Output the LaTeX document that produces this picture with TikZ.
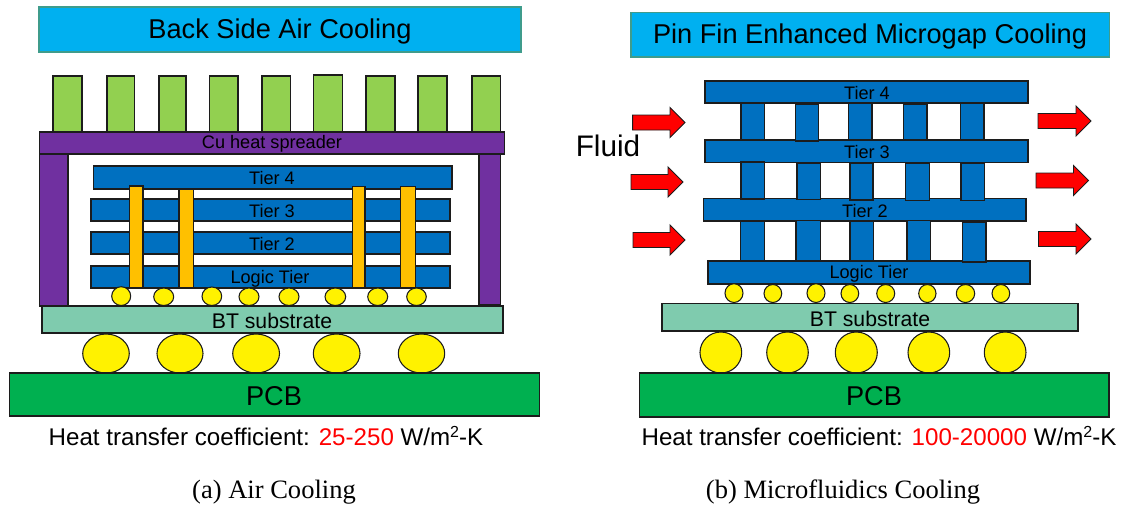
\documentclass[tikz,border=0pt]{standalone}
\usepackage{fontspec}
\setmainfont{Liberation Sans}
\newfontfamily\capfont{Liberation Serif}
\definecolor{skyb}{HTML}{00B0F0}
\definecolor{teale}{HTML}{3F9C8C}
\definecolor{fing}{HTML}{92D050}
\definecolor{purp}{HTML}{7030A0}
\definecolor{tierb}{HTML}{0070C0}
\definecolor{tsvo}{HTML}{FFC000}
\definecolor{subg}{HTML}{7FCBAE}
\definecolor{pcbg}{HTML}{00B050}
\definecolor{edge}{HTML}{1C1C1C}
\tikzset{
  part/.style={draw=edge,line width=0.8pt},
  titlebox/.style={fill=skyb,draw=teale,line width=0.9pt},
  finbox/.style={part,fill=fing},
  purpbox/.style={part,fill=purp},
  tierbox/.style={part,fill=tierb},
  tsvbox/.style={part,fill=tsvo},
  subbox/.style={part,fill=subg},
  pcbbox/.style={part,fill=pcbg},
  ball/.style={part,fill=yellow},
  flow/.style={draw=edge,line width=0.7pt,fill=red},
  titletext/.style={font=\fontsize{20.4pt}{24pt}\selectfont,inner sep=0pt},
  fluidtext/.style={font=\fontsize{22.3pt}{24pt}\selectfont,inner sep=0pt},
  tiertext/.style={font=\fontsize{13.6pt}{16pt}\selectfont,inner sep=0pt},
  subtext/.style={font=\fontsize{15.9pt}{18pt}\selectfont,inner sep=0pt},
  pcbtext/.style={font=\fontsize{20.4pt}{24pt}\selectfont,inner sep=0pt},
  htctext/.style={font=\fontsize{18.1pt}{20pt}\selectfont,inner sep=0pt},
  captext/.style={font=\capfont\fontsize{19.9pt}{22pt}\selectfont,inner sep=0pt},
}
\newcommand{\bx}[5]{\draw[#1] (#2,#3) rectangle (#4,#5);}
\newcommand{\blob}[4]{\draw[ball] ({(#1+#3)/2},{(#2+#4)/2}) ellipse [x radius={(#3-#1)/2},y radius={(#4-#2)/2}];}
\newcommand{\arr}[3]{\draw[flow] (#1,#3-7.5) -- (#2-15,#3-7.5) -- (#2-15,#3-15) -- (#2,#3) -- (#2-15,#3+15) -- (#2-15,#3+7.5) -- (#1,#3+7.5) -- cycle;}
\newcommand{\sqsup}{\raisebox{6pt}{\fontsize{12pt}{12pt}\selectfont 2}}
\begin{document}
\begin{tikzpicture}[x=0.75pt,y=-0.75pt]
\useasboundingbox (0,0) rectangle (1124,504);
% ---------- (a)
\bx{titlebox}{39}{7}{521}{52}
\node[titletext] (ta) at (280,31.5) {Back Side Air Cooling};
\foreach \a/\b/\t in {53/82/76,107/134.5/76,159/186/76,209.5/238/76,262/290.7/76,313.5/342.3/75,366/395/76,418/447/76,472/500.5/76}
  {\bx{finbox}{\a}{\t}{\b}{132}}
\bx{purpbox}{39.5}{154}{68}{306}
\bx{purpbox}{479}{153}{500.7}{305}
\bx{purpbox}{39.5}{132}{504.5}{154}
\node[tiertext] (cu) at (272,144) {Cu heat spreader};
\bx{tierbox}{93.5}{166}{452}{189}
\bx{tierbox}{91}{199}{450}{221}
\bx{tierbox}{91}{232}{450}{254}
\bx{tierbox}{91}{266}{450}{288}
\foreach \a/\b/\t in {129.5/143/186,179/193.5/189,352.7/365/186.5,400.5/415.5/186.5}
  {\bx{tsvbox}{\a}{\t}{\b}{288}}
\node[tiertext] (a4) at (272,178) {Tier 4};
\node[tiertext] (a3) at (272,211) {Tier 3};
\node[tiertext] (a2) at (272,244) {Tier 2};
\node[tiertext] (al) at (270,279) {Logic Tier};
\foreach \a/\b/\t in {111.7/130.7/286.7,153.7/173.7/288,202/221.7/287,239/259/288,279/299/288,325/345.7/288,367.7/387.7/288,406.7/426.3/288}
  {\blob{\a}{\t}{\b}{305.5}}
\bx{subbox}{42}{306}{503}{333}
\node[subtext] (as) at (272,321) {BT substrate};
\foreach \a/\b in {82.7/129.3,157/203,232.7/279.5,313.3/360,398.3/444.7}
  {\blob{\a}{334}{\b}{373}}
\bx{pcbbox}{9.5}{373}{539.5}{416}
\node[pcbtext] (ap) at (274,396) {PCB};
\node[htctext] (ah) at (266,436) {Heat transfer coefficient: \textcolor{red}{25-250} W/m\sqsup-K};
\node[captext] (ac) at (274,492) {(a) Air Cooling};
% ---------- (b)
\bx{titlebox}{631}{12.5}{1109.5}{57}
\node[titletext] (tb) at (870,36) {Pin Fin Enhanced Microgap Cooling};
\bx{tierbox}{705}{81}{1028}{103}
\bx{tierbox}{705}{140}{1028}{162.5}
\bx{tierbox}{703.5}{198.5}{1026}{221}
\bx{tierbox}{708}{261}{1030}{284}
\foreach \a/\b/\t/\e in {741/764.5/103/140,795.5/818.5/104/141,848.3/872/103/140,903.5/927/104/140,960.5/984/103/140,
  741/764.5/162/199,797/820.5/163/199.5,850/873/163/200,905.7/929.3/163/200.5,961/984.5/163/200.5,
  740.5/764.5/221/261,796/820.5/220.5/261,850/873.5/221/261,907/930.5/220.5/261,962.5/986/222/262}
  {\bx{tierbox}{\a}{\t}{\b}{\e}}
\node[tiertext] (b4) at (867,93) {Tier 4};
\node[tiertext] (b3) at (867,152.5) {Tier 3};
\node[tiertext] (b2) at (865,211) {Tier 2};
\node[tiertext] (bl) at (869,273.5) {Logic Tier};
\arr{632.7}{685}{122.5}
\arr{631}{683}{182}
\arr{633}{685}{240}
\arr{1038}{1091}{121}
\arr{1036}{1088.5}{180.5}
\arr{1038.5}{1091}{239}
\node[fluidtext] (fl) at (608,146) {Fluid};
\foreach \a/\b/\t in {725/743/283.7,764/781.7/284.5,807/825/283.7,841/858.7/284.5,876.7/894.7/284.5,918.7/936/284.5,956.3/974.7/284.5,992/1009.7/284.5}
  {\blob{\a}{\t}{\b}{302.5}}
\bx{subbox}{662}{303.5}{1078}{331}
\node[subtext] (bs) at (870,318.5) {BT substrate};
\foreach \a/\b in {700/741.7,766.7/808.3,835.3/877.3,908/949.7,984.3/1026}
  {\blob{\a}{332}{\b}{373}}
\bx{pcbbox}{639.5}{373}{1109}{417}
\node[pcbtext] (bp) at (874,396.5) {PCB};
\node[htctext] (bh) at (879,436) {Heat transfer coefficient: \textcolor{red}{100-20000} W/m\sqsup-K};
\node[captext] (bc) at (843,492) {(b) Microfluidics Cooling};
\end{tikzpicture}
\end{document}
